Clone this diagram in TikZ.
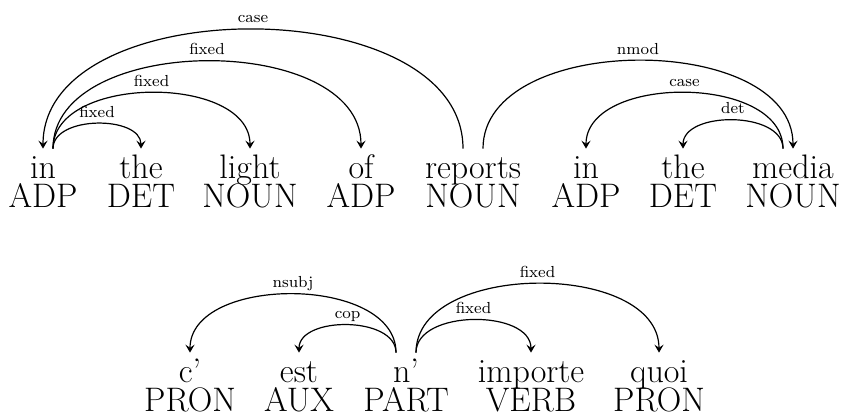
\documentclass[tikz,border=0pt]{standalone}
\usetikzlibrary{arrows.meta}
\begin{document}
\begin{tikzpicture}[x=0.5pt,y=-0.5pt,
  wordbox/.style={font=\fontsize{17}{20}\selectfont, anchor=base, text height=14.5pt, text depth=0pt, inner sep=0pt},
  tagbox/.style={font=\fontsize{17}{20}\selectfont, anchor=base, inner sep=0pt},
  dep/.style={-{Stealth[length=4pt, width=4.6pt, inset=1.6pt]}, line width=0.6pt, out=90, in=90, looseness=0.97},
  lab/.style={midway, anchor=base, yshift=3.3pt, font=\footnotesize, inner sep=0pt}]
\useasboundingbox (0,0) rectangle (841,414);
% row 1
\node[wordbox] (a1) at (43,178) {in};
\node[wordbox] (a2) at (141,178) {the};
\node[wordbox] (a3) at (250,178) {light};
\node[wordbox] (a4) at (361,178) {of};
\node[wordbox] (a5) at (473,178) {reports};
\node[wordbox] (a6) at (586,178) {in};
\node[wordbox] (a7) at (683,178) {the};
\node[wordbox] (a8) at (793,178) {media};
\node[tagbox] (p1) at (43,207) {ADP};
\node[tagbox] (p2) at (141,207) {DET};
\node[tagbox] (p3) at (250,207) {NOUN};
\node[tagbox] (p4) at (361,207) {ADP};
\node[tagbox] (p5) at (473,207) {NOUN};
\node[tagbox] (p6) at (586,207) {ADP};
\node[tagbox] (p7) at (683,207) {DET};
\node[tagbox] (p8) at (793,207) {NOUN};
\draw[dep] ([xshift=5pt]a1.north) to node[lab]{fixed} (a2.north);
\draw[dep] ([xshift=5pt]a1.north) to node[lab]{fixed} (a3.north);
\draw[dep] ([xshift=5pt]a1.north) to node[lab]{fixed} (a4.north);
\draw[dep] ([xshift=-5pt]a5.north) to node[lab]{case} (a1.north);
\draw[dep] ([xshift=5pt]a5.north) to node[lab]{nmod} (a8.north);
\draw[dep] ([xshift=-5pt]a8.north) to node[lab]{case} (a6.north);
\draw[dep] ([xshift=-5pt]a8.north) to node[lab]{det} (a7.north);
% row 2
\node[wordbox] (b1) at (190,382) {c'};
\node[wordbox] (b2) at (299,382) {est};
\node[wordbox] (b3) at (406,382) {n'};
\node[wordbox] (b4) at (531,382) {importe};
\node[wordbox] (b5) at (659,382) {quoi};
\node[tagbox] (q1) at (190,411) {PRON};
\node[tagbox] (q2) at (299,411) {AUX};
\node[tagbox] (q3) at (406,411) {PART};
\node[tagbox] (q4) at (531,411) {VERB};
\node[tagbox] (q5) at (659,411) {PRON};
\draw[dep] ([xshift=-5pt]b3.north) to node[lab]{cop} (b2.north);
\draw[dep] ([xshift=-5pt]b3.north) to node[lab]{nsubj} (b1.north);
\draw[dep] ([xshift=5pt]b3.north) to node[lab]{fixed} (b4.north);
\draw[dep] ([xshift=5pt]b3.north) to node[lab]{fixed} (b5.north);
\end{tikzpicture}
\end{document}
